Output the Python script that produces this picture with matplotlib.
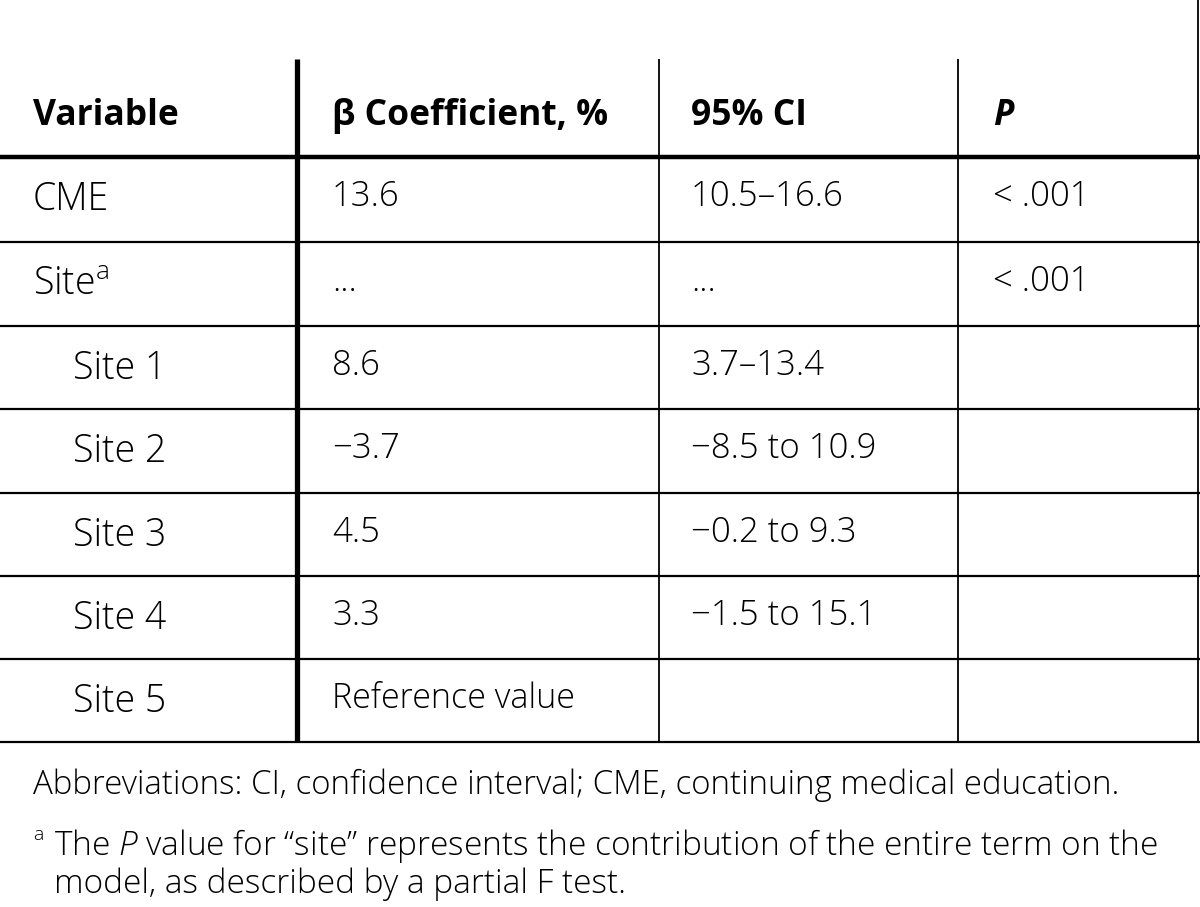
import matplotlib.pyplot as plt

plt.rcParams['font.family'] = ['Open Sans', 'DejaVu Sans']
plt.rcParams['mathtext.fontset'] = 'custom'
plt.rcParams['mathtext.rm'] = 'Open Sans:light'
plt.rcParams['mathtext.it'] = 'Open Sans:italic:light'
plt.rcParams['mathtext.bf'] = 'Open Sans:bold'

# table content
headers = ["Variable", "β Coefficient, %", "95% CI", "P"]
variables = ["CME", r"Site$^{\mathrm{a}}$", "Site 1", "Site 2", "Site 3", "Site 4", "Site 5"]
indented = [False, False, True, True, True, True, True]
coefs = ["13.6", "...", "8.6", "−3.7", "4.5", "3.3", "Reference value"]
cis = ["10.5–16.6", "...", "3.7–13.4", "−8.5 to 10.9", "−0.2 to 9.3", "−1.5 to 15.1", ""]
pvals = ["< .001", "< .001", "", "", "", "", ""]
footnote1 = "Abbreviations: CI, confidence interval; CME, continuing medical education."
footnote2 = [r"The $\mathit{P}$ value for “site” represents the contribution of the entire term on the",
             "model, as described by a partial F test."]

# layout in pixels
col_x = [33, 332, 691, 993]
indent = 40
header_top = 59
rules = [157, 242, 326, 409, 493, 576, 659, 742]
vlines = [297, 659, 958]
fs = 27

fig = plt.figure(figsize=(12, 9.07), dpi=100)
ax = fig.add_axes([0, 0, 1, 1])
ax.set_xlim(0, 1200)
ax.set_ylim(907, 0)
ax.axis('off')

# grid lines
ax.hlines(rules[0], 0, 1200, color='black', lw=3.2)
ax.hlines(rules[1:], 0, 1200, color='black', lw=1.6)
ax.vlines(vlines[0], header_top, rules[-1], color='black', lw=3.8)
ax.vlines(vlines[1:], header_top, rules[-1], color='black', lw=1.3)
ax.vlines(1198, 0, rules[-1], color='black', lw=1.3)

# header
for i, h in enumerate(headers):
    style = 'italic' if h == "P" else 'normal'
    ax.text(col_x[i], header_top + 66, h, fontsize=25.5, fontweight='bold',
            fontstyle=style, va='baseline', ha='left')

# body rows
for r in range(len(variables)):
    base = rules[r] + 53
    x0 = col_x[0] + (indent if indented[r] else 0)
    ax.text(x0, base, variables[r], fontsize=fs, fontweight='light', va='baseline')
    csize = 24.5 if coefs[r].startswith("Ref") else 25
    ax.text(col_x[1], base - 4, coefs[r], fontsize=csize, fontweight='light', va='baseline')
    ax.text(col_x[2], base - 4, cis[r], fontsize=25, fontweight='light', va='baseline')
    ax.text(col_x[3], base - 4, pvals[r], fontsize=25, fontweight='light', va='baseline')

# footnotes
ax.text(33, 794, footnote1, fontsize=23.8, fontweight='light', va='baseline')
ax.text(33, 840, "a", fontsize=14, fontweight='light', va='baseline')
ax.text(54, 855, footnote2[0], fontsize=24, fontweight='light', va='baseline')
ax.text(54, 893, footnote2[1], fontsize=24, fontweight='light', va='baseline')

fig.savefig("out.png", dpi=100)
